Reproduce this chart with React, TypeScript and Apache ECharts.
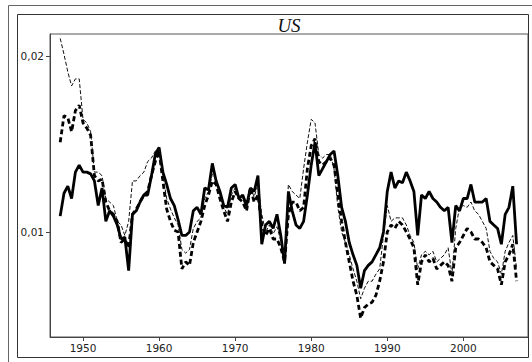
import React, { useEffect, useRef } from "react";
import * as echarts from "echarts";

// semi-annual observations, 1947.0 ... 2007.0
const years: number[] = Array.from({ length: 121 }, (_, i) => 1947 + i * 0.5);

const solidSeries = [
  0.0109, 0.0122, 0.0126, 0.0119, 0.0134, 0.0138, 0.0134, 0.0134, 0.0133, 0.0129, // 1947-1951.5
  0.0115, 0.0125, 0.0106, 0.0112, 0.0109, 0.0104, 0.0096, 0.0097, 0.0078, 0.0110, // 1952-1956.5
  0.0112, 0.0117, 0.0121, 0.0121, 0.0132, 0.0144, 0.0148, 0.0134, 0.0127, 0.0119, // 1957-1961.5
  0.0115, 0.0107, 0.0098, 0.0098, 0.0100, 0.0112, 0.0114, 0.0110, 0.0125, 0.0124, // 1962-1966.5
  0.0139, 0.0129, 0.0123, 0.0115, 0.0114, 0.0125, 0.0127, 0.0119, 0.0121, 0.0115, // 1967-1971.5
  0.0125, 0.0123, 0.0132, 0.0093, 0.0104, 0.0106, 0.0102, 0.0110, 0.0098, 0.0082, // 1972-1976.5
  0.0123, 0.0112, 0.0104, 0.0102, 0.0106, 0.0121, 0.0138, 0.0151, 0.0132, 0.0136, // 1977-1981.5
  0.0140, 0.0144, 0.0146, 0.0132, 0.0114, 0.0106, 0.0094, 0.0087, 0.0081, 0.0068, // 1982-1986.5
  0.0078, 0.0081, 0.0083, 0.0087, 0.0091, 0.0100, 0.0123, 0.0134, 0.0125, 0.0129, // 1987-1991.5
  0.0128, 0.0134, 0.0129, 0.0123, 0.0098, 0.0121, 0.0119, 0.0123, 0.0119, 0.0117, // 1992-1996.5
  0.0114, 0.0112, 0.0114, 0.0094, 0.0115, 0.0112, 0.0119, 0.0119, 0.0127, 0.0117, // 1997-2001.5
  0.0117, 0.0117, 0.0119, 0.0106, 0.0104, 0.0102, 0.0093, 0.0110, 0.0114, 0.0126, // 2002-2006.5
  0.0093, // 2007
];

const thickDashedSeries = [
  0.0151, 0.0166, 0.0165, 0.0157, 0.0169, 0.0172, 0.0162, 0.0159, 0.0155, 0.0132,
  0.0129, 0.0130, 0.0117, 0.0112, 0.0110, 0.0106, 0.0094, 0.0096, 0.0091, 0.0110,
  0.0113, 0.0117, 0.0121, 0.0123, 0.0132, 0.0140, 0.0146, 0.0129, 0.0113, 0.0106,
  0.0101, 0.0100, 0.0079, 0.0083, 0.0081, 0.0094, 0.0100, 0.0106, 0.0115, 0.0121,
  0.0129, 0.0127, 0.0119, 0.0112, 0.0106, 0.0117, 0.0123, 0.0119, 0.0117, 0.0112,
  0.0125, 0.0117, 0.0121, 0.0104, 0.0098, 0.0102, 0.0096, 0.0096, 0.0091, 0.0083,
  0.0110, 0.0117, 0.0117, 0.0112, 0.0114, 0.0136, 0.0149, 0.0153, 0.0140, 0.0138,
  0.0140, 0.0142, 0.0138, 0.0121, 0.0106, 0.0094, 0.0083, 0.0072, 0.0064, 0.0051,
  0.0057, 0.0059, 0.0060, 0.0064, 0.0072, 0.0083, 0.0100, 0.0104, 0.0102, 0.0106,
  0.0104, 0.0100, 0.0096, 0.0091, 0.0070, 0.0083, 0.0087, 0.0083, 0.0085, 0.0079,
  0.0081, 0.0083, 0.0081, 0.0072, 0.0091, 0.0094, 0.0098, 0.0102, 0.0100, 0.0096,
  0.0096, 0.0094, 0.0091, 0.0083, 0.0081, 0.0079, 0.0070, 0.0083, 0.0087, 0.0093,
  0.0072,
];

const thinDashedSeries = [
  0.0210, 0.0201, 0.0191, 0.0183, 0.0187, 0.0187, 0.0164, 0.0162, 0.0157, 0.0134,
  0.0134, 0.0132, 0.0119, 0.0117, 0.0115, 0.0106, 0.0104, 0.0098, 0.0106, 0.0129,
  0.0129, 0.0132, 0.0134, 0.0140, 0.0142, 0.0146, 0.0147, 0.0132, 0.0119, 0.0113,
  0.0108, 0.0104, 0.0090, 0.0088, 0.0090, 0.0102, 0.0106, 0.0108, 0.0119, 0.0123,
  0.0133, 0.0130, 0.0121, 0.0114, 0.0110, 0.0121, 0.0125, 0.0121, 0.0119, 0.0113,
  0.0125, 0.0120, 0.0127, 0.0110, 0.0100, 0.0104, 0.0099, 0.0103, 0.0095, 0.0087,
  0.0127, 0.0123, 0.0121, 0.0119, 0.0136, 0.0151, 0.0164, 0.0162, 0.0144, 0.0142,
  0.0144, 0.0144, 0.0136, 0.0114, 0.0100, 0.0094, 0.0087, 0.0079, 0.0072, 0.0062,
  0.0068, 0.0072, 0.0072, 0.0076, 0.0079, 0.0098, 0.0115, 0.0106, 0.0108, 0.0108,
  0.0108, 0.0104, 0.0098, 0.0094, 0.0079, 0.0087, 0.0089, 0.0087, 0.0089, 0.0083,
  0.0085, 0.0087, 0.0091, 0.0076, 0.0102, 0.0114, 0.0115, 0.0114, 0.0117, 0.0112,
  0.0110, 0.0106, 0.0102, 0.0089, 0.0085, 0.0083, 0.0076, 0.0089, 0.0094, 0.0098,
  0.0079,
];

const xTicks = [1950, 1960, 1970, 1980, 1990, 2000];
const yTicks = [0.01, 0.02];
const title = "US";

const pairs = (vals: number[]) => vals.map((v, i) => [years[i], v]);

export default function App() {
  const ref = useRef<HTMLDivElement>(null);
  useEffect(() => {
    if (!ref.current) return;
    const chart = echarts.init(ref.current, undefined, { renderer: "svg" });
    const labelStyle = {
      color: "#222",
      fontSize: 10.5,
      fontFamily: "DejaVu Sans",
    };
    chart.setOption({
      animation: false,
      backgroundColor: "#fff",
      graphic: [
        {
          type: "rect",
          shape: { x: 8.5, y: 5.5, width: 530, height: 370 },
          style: { fill: "none", stroke: "#666", lineWidth: 1 },
          silent: true,
        },
        {
          type: "rect",
          shape: { x: 17.5, y: 14.5, width: 511, height: 343 },
          style: { fill: "none", stroke: "#333", lineWidth: 1 },
          silent: true,
        },
        {
          type: "text",
          x: 289,
          y: 25,
          style: {
            text: title,
            font: "italic 19px 'Liberation Serif'",
            fill: "#111",
            textAlign: "center",
            textVerticalAlign: "middle",
          },
          silent: true,
        },
      ],
      grid: {
        left: 50,
        right: 4,
        top: 34,
        bottom: 25,
        show: true,
        borderColor: "#555",
        borderWidth: 1,
        backgroundColor: "transparent",
      },
      xAxis: {
        type: "value",
        min: 1945.66,
        max: 2008.5,
        splitLine: { show: false },
        axisLine: { show: true, lineStyle: { color: "#444" } },
        axisTick: {
          show: true,
          length: 4,
          customValues: xTicks,
          lineStyle: { color: "#444" },
        },
        axisLabel: {
          ...labelStyle,
          margin: 5,
          customValues: xTicks,
          formatter: (v: number) => String(v),
        },
      },
      yAxis: {
        type: "value",
        min: 0.00403,
        max: 0.02125,
        splitLine: { show: false },
        axisLine: { show: true, lineStyle: { color: "#444" } },
        axisTick: {
          show: true,
          length: 4,
          customValues: yTicks,
          lineStyle: { color: "#444" },
        },
        axisLabel: {
          ...labelStyle,
          margin: 6,
          customValues: yTicks,
          formatter: (v: number) => v.toFixed(2).replace(".", ","),
        },
      },
      series: [
        {
          type: "line",
          data: pairs(solidSeries),
          showSymbol: false,
          lineStyle: { color: "#000", width: 2.8, type: "solid" },
          z: 2,
        },
        {
          type: "line",
          data: pairs(thickDashedSeries),
          showSymbol: false,
          lineStyle: { color: "#000", width: 2.8, type: [5, 3] },
          z: 3,
        },
        {
          type: "line",
          data: pairs(thinDashedSeries),
          showSymbol: false,
          lineStyle: { color: "#111", width: 1, type: [4, 2] },
          z: 4,
        },
      ],
    });
    return () => chart.dispose();
  }, []);
  return (
    <div
      ref={ref}
      style={{ position: "fixed", left: 0, top: 0, width: 532, height: 362 }}
    />
  );
}
